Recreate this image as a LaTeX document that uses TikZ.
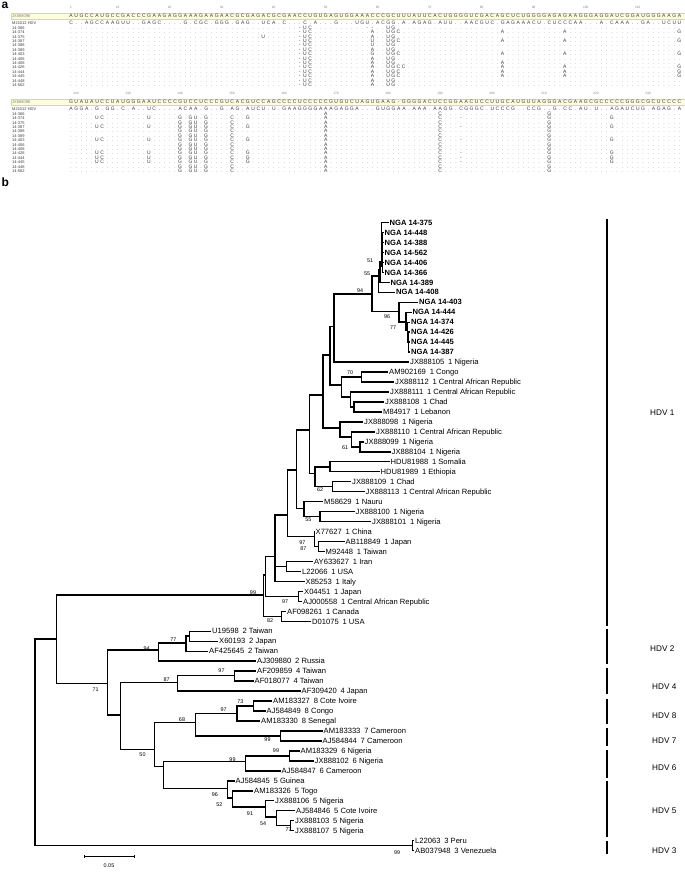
\documentclass[tikz,border=0pt]{standalone}
\usepackage{fontspec}
\setmainfont{Liberation Sans}
\usetikzlibrary{positioning}
\definecolor{bandfill}{RGB}{252,252,226}
\definecolor{bandline}{RGB}{214,224,128}
\definecolor{seqtext}{RGB}{60,60,60}
\definecolor{dotgray}{RGB}{120,120,120}

% fixed-width cells for alignment columns
\newlength\seqw \setlength\seqw{5.2pt}
\def\seqscan#1{\ifx\relax#1\else\makebox[\seqw][c]{#1}\expandafter\seqscan\fi}
\newcommand\seqline[1]{\edef\seqtmp{#1}\expandafter\seqscan\seqtmp\relax}
\def\tendots{..........}
\def\alldots{\tendots\tendots\tendots\tendots\tendots\tendots\tendots\tendots\tendots\tendots\tendots........}
\newcommand\ly[1]{222.5+9.97*#1}

% one isolate row: baseline y, label, variant columns
\newcommand\isorow[3]{%
  \node[rowlab] at (12,#1) {#2};
  \node[dotrow] at (68.3,#1) {\seqline{\alldots}};
  \foreach \c/\s in #3 {\node[mut] at ({68.3+(\c-0.5)*5.2},#1) {\s};}%
}
\def\vsA{45/-,46/U,47/C,58/-,59/-,62/U,63/G}
\def\vsB{45/-,46/U,47/C,59/A,62/U,63/G,64/C,84/A,96/A,118/G}
\def\vsC{38/U,45/-,46/U,47/C,59/A,62/U,63/G}
\def\vsD{45/-,46/U,47/C,59/U,62/U,63/G,64/C,84/A,96/A,118/G}
\def\vsE{45/-,46/U,47/C,59/U,62/U,63/G}
\def\vsF{45/-,46/U,47/C,59/A,62/U,63/G}
\def\vsG{45/-,46/U,47/C,59/G,62/U,63/G,64/C,84/A,96/A,118/G}
\def\vsH{45/-,46/U,47/C,59/A,62/U,63/G,84/A}
\def\vsI{45/-,46/U,47/C,59/A,62/U,63/G,64/C,65/C,84/A,96/A,118/G}
\def\wsA{50/A,72/C,93/G}
\def\wsB{6/U,7/C,16/U,22/G,24/G,25/U,27/G,32/C,35/G,50/A,72/C,76/-,93/G,105/G}
\def\wsC{22/G,24/G,25/U,27/G,32/C,50/A,72/C,93/G}

\begin{document}
\begin{tikzpicture}[x=1pt,y=-1pt,
    br/.style={line width=1.4pt},
    leaf/.style={anchor=west, inner xsep=1pt, inner ysep=0pt, text height=5.4pt, text depth=0pt,
        font=\fontsize{7.6}{8}\selectfont},
    nga/.style={leaf, font=\fontsize{7.6}{8}\selectfont\bfseries},
    boot/.style={inner sep=0pt, font=\fontsize{5.4}{6}\selectfont},
    clade/.style={line width=2.6pt},
    cladelab/.style={anchor=west, inner sep=0pt, font=\fontsize{8.2}{9}\selectfont},
    panel/.style={anchor=base west, inner sep=0pt, font=\fontsize{12}{12}\selectfont\bfseries},
    rowlab/.style={anchor=base west, inner sep=0pt, font=\fontsize{4}{4}\selectfont, text=seqtext},
    seqrow/.style={anchor=base west, inner sep=0pt, font=\fontsize{5}{5}\selectfont, text=seqtext},
    dotrow/.style={seqrow, text=dotgray},
    mut/.style={anchor=base, inner xsep=0pt, inner ysep=0.4pt, fill=white, minimum width=4.8pt,
        font=\fontsize{5}{5}\selectfont, text=seqtext},
    rul/.style={inner sep=0pt, font=\fontsize{3.2}{3}\selectfont, text=gray},
    band/.style={draw=bandline, fill=bandfill, line width=0.6pt}
]
\useasboundingbox (0,0) rectangle (685,873);

% ---------------- panel a: alignment ----------------
\node[panel] (pa) at (1.5,8.5) {a};

% block 1
\foreach \c/\n in {1/1,10/10,20/20,30/30,40/40,50/50,60/60,70/70,80/80,90/90,100/100,110/110}
    \node[rul] (ra\n) at ({68.3+(\c-0.5)*5.2},7.8) {\n};
\draw[band] (11.5,13.3) rectangle (685,18.8);
\node[rowlab, text=gray] (refa) at (12,17.5) {JX888098};
\node[seqrow] (seqa) at (68.3,17.6) {\seqline{AUGCCAUGCC GACCCGAAGA GGAAAGAAGA ACGCGAGACG CGAACCUGUG AGUGGAAACC CGCUUUAUUC ACUGGGGUCG ACAGCUCUGG GGAGAGAAGG GAGGAUCGGA UGGGAAGA}};
\node[rowlab] (ma) at (12,24.9) {M21012 HDV};
\node[seqrow] (mseqa) at (68.3,24.9) {\seqline{C..AGCCAAGUU..GAGC....G.CGC.GGG .GAG..UCA.C...C.A...G...UGU.ACGG.A.AGAG.AUU..AACGUC.GAGAAACU.CUCCCAA...A.CAAA..GA..UCUU}};
\isorow{29.2}{14-366}{\vsA}
\isorow{33.6}{14-374}{\vsB}
\isorow{38.0}{14-375}{\vsC}
\isorow{42.4}{14-387}{\vsD}
\isorow{46.8}{14-388}{\vsE}
\isorow{51.2}{14-389}{\vsF}
\isorow{55.6}{14-403}{\vsG}
\isorow{60.0}{14-406}{\vsF}
\isorow{64.4}{14-408}{\vsH}
\isorow{68.8}{14-426}{\vsI}
\isorow{73.2}{14-444}{\vsB}
\isorow{77.6}{14-445}{\vsB}
\isorow{82.0}{14-448}{\vsF}
\isorow{86.4}{14-562}{\vsF}

% block 2
\foreach \c/\n in {2/120,12/130,22/140,32/150,42/160,52/170,62/180,72/190,82/200,92/210,102/220,112/230}
    \node[rul] (rb\n) at ({68.3+(\c-0.5)*5.2},93.8) {\n};
\draw[band] (11.5,99.3) rectangle (685,104.8);
\node[rowlab, text=gray] (refb) at (12,103.5) {JX888098};
\node[seqrow] (seqb) at (68.3,103.6) {\seqline{GUAUAUCCUA UGGGAAUCCC CGUCCUCCCG UCACGUCCAG CCCCUCCCCC GUGUCUAGUG AAG-GGGGAC UCCGGAACUC CUUGCAUGUU AGGGACGAAG CGCCCCCGGG CGCUCCCC}};
\node[rowlab] (mb) at (12,110.9) {M21012 HDV};
\node[seqrow] (mseqb) at (68.3,110.9) {\seqline{AGGA.G.GG. C.A..UC... .ACAA.G..G .AG.AUCU.U .GAAGGGGAA AGAGGA...G UGGAA.AAA. AAGG.CGGGC .UCCCG..CC G..G.CC.AU .U..AGAUCU G.AGAG.A}};
\isorow{115.2}{14-366}{\wsA}
\isorow{119.6}{14-374}{\wsB}
\isorow{124.0}{14-375}{\wsC}
\isorow{128.4}{14-387}{\wsB}
\isorow{132.8}{14-388}{\wsC}
\isorow{137.2}{14-389}{\wsC}
\isorow{141.6}{14-403}{\wsB}
\isorow{146.0}{14-406}{\wsC}
\isorow{150.4}{14-408}{\wsC}
\isorow{154.8}{14-426}{\wsB}
\isorow{159.2}{14-444}{\wsB}
\isorow{163.6}{14-445}{\wsB}
\isorow{168.0}{14-448}{\wsC}
\isorow{172.4}{14-562}{\wsC}

% ---------------- panel b: tree ----------------
\node[panel] (pb) at (1.5,186) {b};

% Nigerian isolates (bold)
\foreach \k/\i/\tx in {375/0/388.5, 448/1/383.5, 388/2/383.5, 562/3/383.5, 406/4/383.5, 366/5/383.5,
    389/6/389.5, 408/7/395, 403/8/418, 444/9/411.5, 374/10/410, 426/11/410, 445/12/410, 387/13/410}
    \node[nga] (g\k) at (\tx,{\ly{\i}}) {NGA 14-\k};

% reference sequences
\foreach \ac/\i/\tx/\ct in {
    JX888105/14/409/1 Nigeria, AM902169/15/388/1 Congo, JX888112/16/394/1 Central African Republic,
    JX888111/17/389/1 Central African Republic, JX888108/18/384/1 Chad, M84917/19/382/1 Lebanon,
    JX888098/20/363/1 Nigeria, JX888110/21/375/1 Central African Republic, JX888099/22/363.5/1 Nigeria,
    JX888104/23/390.5/1 Nigeria, HDU81988/24/389.5/1 Somalia, HDU81989/25/379.5/1 Ethiopia,
    JX888109/26/351/1 Chad, JX888113/27/364.5/1 Central African Republic, M58629/28/323/1 Nauru,
    JX888100/29/354.5/1 Nigeria, JX888101/30/371/1 Nigeria, X77627/31/314.5/1 China,
    AB118849/32/344.5/1 Japan, M92448/33/324.5/1 Taiwan, AY633627/34/313/1 Iran,
    L22066/35/301/1 USA, X85253/36/304.5/1 Italy, X04451/37/303/1 Japan,
    AJ000558/38/302/1 Central African Republic, AF098261/39/286/1 Canada, D01075/40/311/1 USA,
    U19598/41/211/2 Taiwan, X60193/42/218/2 Japan, AF425645/43/208/2 Taiwan, AJ309880/44/256/2 Russia,
    AF209859/45/256/4 Taiwan, AF018077/46/253.5/4 Taiwan, AF309420/47/300.5/4 Japan,
    AM183327/48/272/8 Cote Ivoire, AJ584849/49/265.5/8 Congo, AM183330/50/260/8 Senegal,
    AM183333/51/322.5/7 Cameroon, AJ584844/52/321.5/7 Cameroon,
    AM183329/53/299.5/6 Nigeria, JX888102/54/313.5/6 Nigeria, AJ584847/55/280.5/6 Cameroon,
    AJ584845/56/234.5/5 Guinea, AM183326/57/253/5 Togo, JX888106/58/274/5 Nigeria,
    AJ584846/59/295/5 Cote Ivoire, JX888103/60/294/5 Nigeria, JX888107/61/294/5 Nigeria,
    L22063/62/414/3 Peru, AB037948/63/414/3 Venezuela}
    \node[leaf] (\ac) at (\tx,{\ly{\i}}) {\ac\hspace{0.5em}\ct};

% internal nodes
\coordinate (n51b) at (382.6,266);   \coordinate (n51) at (381.2,262);
\coordinate (n55) at (379.9,270);    \coordinate (nP) at (378.6,276);
\coordinate (n94) at (372,294);      \coordinate (n96) at (399,311.7);
\coordinate (n77) at (406,322);      \coordinate (n77b) at (407.3,330);
\coordinate (n77c) at (408.6,342);   \coordinate (s1) at (334,326.7);
\coordinate (n70) at (361.7,377);    \coordinate (nC1) at (354,407);
\coordinate (nC2) at (350.7,397);    \coordinate (nC3) at (341.7,385);
\coordinate (s2) at (330,355);       \coordinate (n61) at (360,446.8);
\coordinate (nD2) at (351.7,437);    \coordinate (nD1) at (340,428);
\coordinate (s3) at (323,395);       \coordinate (nE1) at (330,466.8);
\coordinate (nE2) at (332.7,486.7);  \coordinate (nE3) at (315,473.3);
\coordinate (s4) at (309.3,430);     \coordinate (nM2) at (320,516.6);
\coordinate (nM) at (304,508.3);     \coordinate (s5) at (296.7,470);
\coordinate (nX2) at (318.3,546.5);  \coordinate (nX1) at (314.3,536.7);
\coordinate (s6) at (287.3,515);     \coordinate (nAY) at (286.7,566.5);
\coordinate (s7) at (275,556.7);     \coordinate (n97b) at (298.3,596.5);
\coordinate (nR2) at (265.5,575);    \coordinate (n82) at (281.7,616.3);
\coordinate (r1) at (263.3,595);
\coordinate (n77b2) at (189.3,636);  \coordinate (n77a2) at (186,643);
\coordinate (nH2) at (158.3,650);    \coordinate (n97c) at (234.6,675.5);
\coordinate (n87) at (177.6,682.7);  \coordinate (n73) at (253.5,706);
\coordinate (n97d) at (236.8,713.3); \coordinate (n99e) at (280.7,736);
\coordinate (nZ8) at (195.2,722.7);  \coordinate (n99g) at (289.5,755.9);
\coordinate (n99f) at (245.6,761.7); \coordinate (n77h) at (290.4,825.7);
\coordinate (n54) at (276.3,817);    \coordinate (n91) at (265.4,807);
\coordinate (n52) at (232.5,798);    \coordinate (n96h) at (227.2,788.3);
\coordinate (nZ6) at (163.2,766.7);  \coordinate (nY) at (154.4,749.3);
\coordinate (nX) at (120.6,715);     \coordinate (n71) at (107.5,683.3);
\coordinate (nB) at (56.7,639);      \coordinate (nH3) at (412.3,845.6);
\coordinate (root) at (35.1,740);

% branches
\foreach \p/\c in {
    n51b/g448.west, n51b/g388.west, n51b/g562.west, n51b/g406.west, n51b/g366.west,
    n51/g375.west, n51/n51b, n55/n51, n55/g389.west, nP/n55, nP/g408.west,
    n94/nP, n94/n96, n96/g403.west, n96/n77, n77/g444.west, n77/n77b,
    n77b/g374.west, n77b/n77c, n77c/g426.west, n77c/g445.west, n77c/g387.west,
    s1/n94, s1/JX888105.west,
    n70/AM902169.west, n70/JX888112.west, nC1/JX888108.west, nC1/M84917.west,
    nC2/JX888111.west, nC2/nC1, nC3/n70, nC3/nC2, s2/s1, s2/nC3,
    n61/JX888099.west, n61/JX888104.west, nD2/JX888110.west, nD2/n61,
    nD1/JX888098.west, nD1/nD2, s3/s2, s3/nD1,
    nE1/HDU81988.west, nE1/HDU81989.west, nE2/JX888109.west, nE2/JX888113.west,
    nE3/nE1, nE3/nE2, s4/s3, s4/nE3,
    nM2/JX888100.west, nM2/JX888101.west, nM/M58629.west, nM/nM2, s5/s4, s5/nM,
    nX2/AB118849.west, nX2/M92448.west, nX1/X77627.west, nX1/nX2, s6/s5, s6/nX1,
    nAY/AY633627.west, nAY/L22066.west, s7/s6, s7/nAY, s7/X85253.west,
    n97b/X04451.west, n97b/AJ000558.west, nR2/s7, nR2/n97b,
    n82/AF098261.west, n82/D01075.west, r1/nR2, r1/n82,
    n77b2/U19598.west, n77b2/X60193.west, n77a2/n77b2, n77a2/AF425645.west,
    nH2/n77a2, nH2/AJ309880.west,
    n97c/AF209859.west, n97c/AF018077.west, n87/n97c, n87/AF309420.west,
    n73/AM183327.west, n73/AJ584849.west, n97d/n73, n97d/AM183330.west,
    n99e/AM183333.west, n99e/AJ584844.west, nZ8/n97d, nZ8/n99e,
    n99g/AM183329.west, n99g/JX888102.west, n99f/n99g, n99f/AJ584847.west,
    n77h/JX888103.west, n77h/JX888107.west, n54/AJ584846.west, n54/n77h,
    n91/JX888106.west, n91/n54, n52/AM183326.west, n52/n91,
    n96h/AJ584845.west, n96h/n52, nZ6/n99f, nZ6/n96h,
    nY/nZ8, nY/nZ6, nX/n87, nX/nY, n71/nH2, n71/nX, nB/r1, nB/n71,
    nH3/L22063.west, nH3/AB037948.west, root/nB, root/nH3}
    \draw[br] (\p) |- (\c);

% bootstrap values
\foreach \x/\y/\v [count=\q] in {370/261/51, 367/274/55, 360/290.7/94, 387/317/96, 393/328/77,
    350/372.7/70, 345/447.3/61, 320/490/62, 308.3/520/55, 302.3/542.3/97, 303.3/548.3/87,
    253/592.3/99, 285/601.7/97, 270/621/82, 173.3/639.3/77, 146.7/648.3/94, 95.6/689.3/71,
    221.5/671/97, 166.7/679.3/87, 240.4/701.7/73, 223.7/709.3/97, 182/720/68, 267.5/740/99,
    276/751/99, 232.5/759.3/99, 142.5/755/50, 214.9/795/96, 219.3/805/52, 250/814/91,
    263.2/823.3/54, 288.6/830/77, 397/852.7/99}
    \node[boot] (bs\q) at (\x,\y) {\v};

% genotype bars
\foreach \nm/\ya/\yb/\yl/\xl/\t in {h1/219/626/413/650/HDV 1, h2/629/664/649/650/HDV 2,
    h4/668/694/687/652/HDV 4, h8/699/724/716/652/HDV 8, h7/728/746/741/652/HDV 7,
    h6/750/778/768/652/HDV 6, h5/781/837/811/652/HDV 5, h3/841/854/851/652/HDV 3}
{
    \coordinate (\nm a) at (607,\ya);
    \coordinate (\nm b) at (607,\yb);
    \draw[clade] (\nm a) -- (\nm b);
    \node[cladelab] (\nm) at (\xl,\yl) {\t};
}

% scale bar
\coordinate (sbl) at (84,856);
\coordinate (sbr) at (134,856);
\draw[line width=0.8pt] (sbl) -- (sbr);
\draw[line width=0.6pt] ([yshift=-1.5pt]sbl) -- ([yshift=1.5pt]sbl);
\draw[line width=0.6pt] ([yshift=-1.5pt]sbr) -- ([yshift=1.5pt]sbr);
\node[boot] (sbt) at (109,866) {0.05};

\end{tikzpicture}
\end{document}
